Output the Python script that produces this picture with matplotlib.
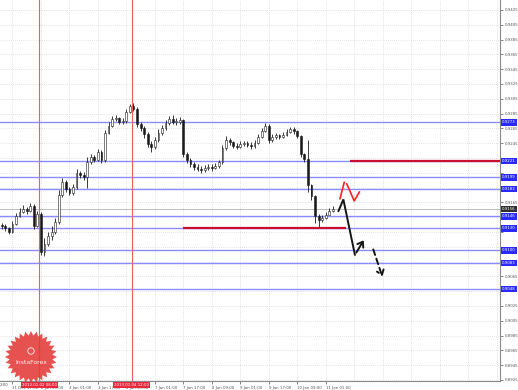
import numpy as np
import matplotlib
matplotlib.use("Agg")
import matplotlib.pyplot as plt
from matplotlib.patches import Polygon, Circle
from matplotlib.transforms import blended_transform_factory

# ---------------- data (H1 chart, one candle drawn per 2 hours) ----------------
hours = list(range(1, 188, 2))
first_open = 0.9134
closes = [0.9133, 0.9130, 0.9125, 0.9136, 0.9147, 0.9152, 0.9156, 0.9153, 0.9160, 0.9133,
          0.9149, 0.9098, 0.9109, 0.9120, 0.9125, 0.9138, 0.9175, 0.9193, 0.9183, 0.9178,
          0.9186, 0.9205, 0.9202, 0.9199, 0.9220, 0.9226, 0.9222, 0.9233, 0.9222, 0.9259,
          0.9268, 0.9278, 0.9279, 0.9274, 0.9275, 0.9287, 0.9295, 0.9291, 0.9271, 0.9266,
          0.9257, 0.9244, 0.9240, 0.9249, 0.9259, 0.9266, 0.9272, 0.9278, 0.9274, 0.9274,
          0.9276, 0.9230, 0.9222, 0.9217, 0.9213, 0.9210, 0.9209, 0.9211, 0.9213, 0.9211,
          0.9214, 0.9220, 0.9238, 0.9249, 0.9247, 0.9241, 0.9240, 0.9244, 0.9245, 0.9243,
          0.9241, 0.9245, 0.9253, 0.9261, 0.9268, 0.9249, 0.9253, 0.9256, 0.9253, 0.9256,
          0.9260, 0.9264, 0.9261, 0.9255, 0.9230, 0.9224, 0.9188, 0.9174, 0.9147, 0.9141,
          0.9144, 0.9148, 0.9153, 0.9156]
highs = [0.9137, 0.9136, 0.9132, 0.9140, 0.9151, 0.9157, 0.9161, 0.9159, 0.9164, 0.9163,
         0.9153, 0.9152, 0.9117, 0.9125, 0.9133, 0.9144, 0.9182, 0.9198, 0.9195, 0.9186,
         0.9190, 0.9210, 0.9207, 0.9206, 0.9226, 0.9230, 0.9229, 0.9237, 0.9236, 0.9263,
         0.9274, 0.9282, 0.9283, 0.9280, 0.9279, 0.9291, 0.9298, 0.9299, 0.9294, 0.9274,
         0.9268, 0.9260, 0.9248, 0.9253, 0.9264, 0.9270, 0.9276, 0.9282, 0.9283, 0.9279,
         0.9280, 0.9278, 0.9233, 0.9225, 0.9220, 0.9217, 0.9214, 0.9216, 0.9217, 0.9217,
         0.9218, 0.9222, 0.9243, 0.9255, 0.9252, 0.9248, 0.9245, 0.9248, 0.9248, 0.9248,
         0.9247, 0.9249, 0.9257, 0.9266, 0.9272, 0.9271, 0.9257, 0.9259, 0.9257, 0.9260,
         0.9264, 0.9267, 0.9267, 0.9263, 0.9256, 0.9232, 0.9249, 0.9190, 0.9175, 0.9149,
         0.9148, 0.9152, 0.9157, 0.9160]
lows = [0.9129, 0.9126, 0.9122, 0.9124, 0.9134, 0.9145, 0.9151, 0.9149, 0.9152, 0.9129,
        0.9132, 0.9094, 0.9093, 0.9106, 0.9114, 0.9122, 0.9136, 0.9172, 0.9179, 0.9175,
        0.9175, 0.9183, 0.9198, 0.9195, 0.9184, 0.9217, 0.9220, 0.9221, 0.9218, 0.9220,
        0.9257, 0.9267, 0.9275, 0.9271, 0.9271, 0.9272, 0.9286, 0.9288, 0.9267, 0.9261,
        0.9252, 0.9240, 0.9233, 0.9237, 0.9247, 0.9256, 0.9263, 0.9270, 0.9271, 0.9270,
        0.9271, 0.9226, 0.9218, 0.9213, 0.9209, 0.9207, 0.9205, 0.9206, 0.9209, 0.9207,
        0.9210, 0.9211, 0.9217, 0.9236, 0.9243, 0.9238, 0.9237, 0.9238, 0.9241, 0.9240,
        0.9237, 0.9238, 0.9244, 0.9252, 0.9260, 0.9245, 0.9247, 0.9251, 0.9251, 0.9252,
        0.9255, 0.9259, 0.9257, 0.9252, 0.9226, 0.9220, 0.9179, 0.9168, 0.9137, 0.9132,
        0.9138, 0.9143, 0.9149, 0.9152]

blue_levels = [0.9273, 0.9221, 0.9199, 0.9183, 0.9146, 0.9130, 0.9100, 0.9083, 0.9048]
red_upper_level = 0.9221
red_upper_span = [196.6, 281.0]
red_lower_level = 0.9130
red_lower_span = [102.8, 194.4]
current_price = 0.9156

vline_hours = [22.1, 74.0]
vline_labels = ["2013.01.02 08:00", "2013.01.04 12:00"]

xtick_hours = [7, 23, 39, 55, 71, 87, 103, 119, 135, 151, 167, 183]
xtick_labels = ["31 Dec 17:00", "2 Jan 09:00", "3 Jan 01:00", "3 Jan 17:00", "4 Jan 09:00",
                "7 Jan 01:00", "7 Jan 17:00", "8 Jan 09:00", "9 Jan 01:00", "9 Jan 17:00",
                "10 Jan 09:00", "11 Jan 01:00"]
ytick_values = [0.9425, 0.9405, 0.9385, 0.9365, 0.9345, 0.9325, 0.9305, 0.9285, 0.9265,
                0.9245, 0.9225, 0.9205, 0.9185, 0.9165, 0.9145, 0.9125, 0.9105, 0.9085,
                0.9065, 0.9045, 0.9025, 0.9005, 0.8985, 0.8965, 0.8945, 0.8925]

# forecast drawings (hour, price)
black_path_h = [190.1, 192.9, 199.4, 205.1]
black_path_p = [0.9153, 0.9169, 0.9094, 0.9117]
dashed_path_h = [209.2, 215.3]
dashed_path_p = [0.9105, 0.9061]
red_a_h = [191.0, 193.4]
red_a_p = [0.9170, 0.9192]
red_b_h = [194.8, 199.0, 201.9]
red_b_p = [0.9190, 0.9167, 0.9179]

# ---------------- figure ----------------
W, H = 518, 390
fig = plt.figure(figsize=(W / 100, H / 100), dpi=100)
fig.patch.set_facecolor("white")
ax = fig.add_axes([0, 9 / H, 500 / W, 381 / H])
ax.set_facecolor("white")
ax.set_xlim(0, 500 / 1.78)
ax.set_ylim(0.89236, 0.94385)

# grid
for yv in ytick_values:
    ax.axhline(yv, color="#c8c8c8", lw=0.5, ls=(0, (1, 2)), zorder=0)
for xv in xtick_hours + [199, 215, 231, 247, 263, 279]:
    ax.axvline(xv, color="#c8c8c8", lw=0.5, ls=(0, (1, 2)), zorder=0)

# blue levels
for lv in blue_levels:
    ax.axhline(lv, color="#8c8cff", lw=1.0, zorder=1)
# current price line
ax.axhline(current_price, color="#bdbdbd", lw=0.7, zorder=1)

# vertical red lines
for vh in vline_hours:
    ax.axvline(vh, color="#ee6060", lw=0.8, zorder=1)

# red levels
ax.hlines(red_upper_level, red_upper_span[0], red_upper_span[1], color="#c8102e", lw=1.6, zorder=3)
ax.hlines(red_lower_level, red_lower_span[0], red_lower_span[1], color="#c8102e", lw=1.6, zorder=3)

# candles
opens = [first_open] + closes[:-1]
for x, o, c, hi, lo in zip(hours, opens, closes, highs, lows):
    ax.vlines(x, lo, hi, color="#1a1a1a", lw=0.6, zorder=4)
    bull = c >= o
    ax.bar(x, max(abs(c - o), 0.00004), bottom=min(o, c), width=1.0,
           color="white" if bull else "#1a1a1a", edgecolor="#1a1a1a", linewidth=0.4, zorder=5)

# forecast drawings
ax.plot(black_path_h[:-1], black_path_p[:-1], color="#151515", lw=1.4, zorder=6,
        solid_capstyle="round", solid_joinstyle="miter")
ax.annotate("", xy=(black_path_h[-1], black_path_p[-1]),
            xytext=(black_path_h[-2], black_path_p[-2]),
            arrowprops=dict(arrowstyle="->,head_length=0.35,head_width=0.25", color="#151515", lw=1.4),
            zorder=6)
ax.annotate("", xy=(dashed_path_h[-1], dashed_path_p[-1]),
            xytext=(dashed_path_h[0], dashed_path_p[0]),
            arrowprops=dict(arrowstyle="->,head_length=0.35,head_width=0.25", color="#151515",
                            lw=1.4, linestyle=(0, (3, 2))),
            zorder=6)
ax.plot(red_a_h, red_a_p, color="#ff2020", lw=1.2, zorder=6)
ax.plot(red_b_h, red_b_p, color="#ff2020", lw=1.2, zorder=6)

# axes styling
for s in ["left", "top"]:
    ax.spines[s].set_visible(False)
for s in ["right", "bottom"]:
    ax.spines[s].set_color("#8a8a8a")
    ax.spines[s].set_linewidth(0.8)
ax.yaxis.tick_right()
ax.set_yticks(ytick_values)
# gray labels that sit behind a coloured price box are hidden (covered in the reference)
covered = blue_levels + [current_price]
ax.set_yticklabels(["" if min(abs(v - c) for c in covered) < 0.0007 else f"{v:.4f}"
                    for v in ytick_values])
ax.set_xticks(xtick_hours)
ax.set_xticklabels(xtick_labels, ha="left")
ax.tick_params(axis="y", labelsize=2.8, length=2, width=0.5, pad=1.5, colors="#555555")
ax.tick_params(axis="x", labelsize=2.8, length=2, width=0.5, pad=1.5, colors="#555555")

bt_y = blended_transform_factory(ax.transAxes, ax.transData)
bt_x = blended_transform_factory(ax.transData, ax.transAxes)
ax.text(0, -0.005, "2:00", transform=bt_x, fontsize=2.8, color="#555555", ha="left", va="top", clip_on=False)

# price labels on the right
for lv in blue_levels:
    ax.text(1.004, lv, f"{lv:.4f}", transform=bt_y, fontsize=2.8, color="white",
            ha="left", va="center", zorder=10, clip_on=False,
            bbox=dict(boxstyle="square,pad=0.35", fc="#2a2aff", ec="none"))
ax.text(1.004, current_price, f"{current_price:.4f}", transform=bt_y, fontsize=2.8, color="white",
        ha="left", va="center", zorder=10, clip_on=False,
        bbox=dict(boxstyle="square,pad=0.35", fc="#303030", ec="none"))

# red time labels
for vh, lab in zip(vline_hours, vline_labels):
    ax.text(vh, -0.006, lab, transform=bt_x, fontsize=2.8, color="white", ha="center", va="top",
            zorder=10, clip_on=False,
            bbox=dict(boxstyle="square,pad=0.3", fc="#e8283c", ec="none"))

# watermark seal (pixel overlay)
ov = fig.add_axes([0, 0, 1, 1], zorder=20)
ov.set_xlim(0, W)
ov.set_ylim(H, 0)
ov.axis("off")
ov.patch.set_alpha(0)
n = 28
ang = np.linspace(0, 2 * np.pi, 2 * n, endpoint=False)
rad = np.where(np.arange(2 * n) % 2 == 0, 26.0, 21.5)
cx, cy = 31, 357
pts = np.column_stack([cx + rad * np.cos(ang), cy + rad * np.sin(ang)])
ov.add_patch(Polygon(pts, closed=True, fc="#e23a36", ec="none", alpha=0.88))
ov.add_patch(Circle((cx, cy - 6), 3.2, fc="none", ec="white", lw=0.6, alpha=0.9))
ov.text(cx, cy + 5, "InstaForex", color="white", fontsize=4.4, ha="center", va="center", alpha=0.95)

fig.savefig("out.png", dpi=100, facecolor="white")
